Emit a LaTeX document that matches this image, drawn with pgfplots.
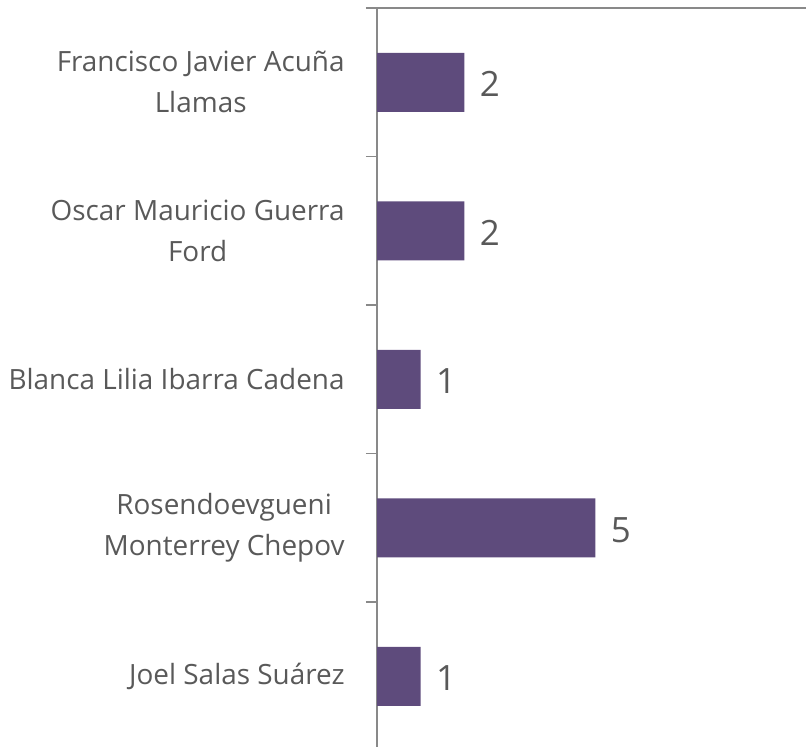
\documentclass[border=0pt]{standalone}
\usepackage{fontspec}
\setmainfont{Open Sans}
\usepackage{pgfplots}
\pgfplotsset{compat=1.18}
\definecolor{barpurple}{HTML}{5E4B7C}
\definecolor{labelgray}{HTML}{595959}
\definecolor{axisgray}{HTML}{898989}

\begin{document}
\begin{tikzpicture}
\begin{axis}[
    at={(188.5bp,0bp)}, anchor=south west,
    scale only axis,
    width=214.5bp, height=369.5bp,
    xbar, bar width=29.5bp, bar shift=0pt,
    xmin=0, xmax=9.82,
    ymin=0.5, ymax=5.476,
    y dir=reverse,
    clip=false,
    axis x line*=top,
    axis y line*=left,
    separate axis lines,
    x axis line style={-, draw=axisgray, line width=0.9bp},
    y axis line style={-, draw=axisgray, line width=1bp},
    xtick=\empty,
    ytick={0.5,1.5,2.5,3.5,4.5},
    yticklabels={},
    tick style={draw=axisgray, line width=0.9bp},
    major tick length=5.5bp,
    tick align=outside,
    extra y ticks={1,2,3,4,5},
    extra y tick labels={
        {Francisco Javier Acuña\\Llamas},
        {Oscar Mauricio Guerra\\Ford},
        {Blanca Lilia Ibarra Cadena},
        {Rosendoevgueni\\Monterrey Chepov},
        {Joel Salas Suárez}},
    extra y tick style={
        major tick length=0pt,
        yticklabel style={align=center, anchor=east, inner sep=0pt,
            xshift=-16bp, font=\fontsize{14}{20.5}\selectfont,
            text=labelgray}},
    /pgf/number format/assume math mode=true,
    nodes near coords,
    every node near coord/.append style={
        anchor=west, inner sep=0pt, xshift=7.5bp, yshift=-1bp,
        font=\fontsize{17.5}{21}\selectfont, text=labelgray},
]
\addplot[fill=barpurple, draw=none] coordinates {
    (2,1) (2,2) (1,3) (5,4) (1,5)
};
\end{axis}
\pgfresetboundingbox
\useasboundingbox (0,0) rectangle (403bp,373.5bp);
\end{tikzpicture}
\end{document}
